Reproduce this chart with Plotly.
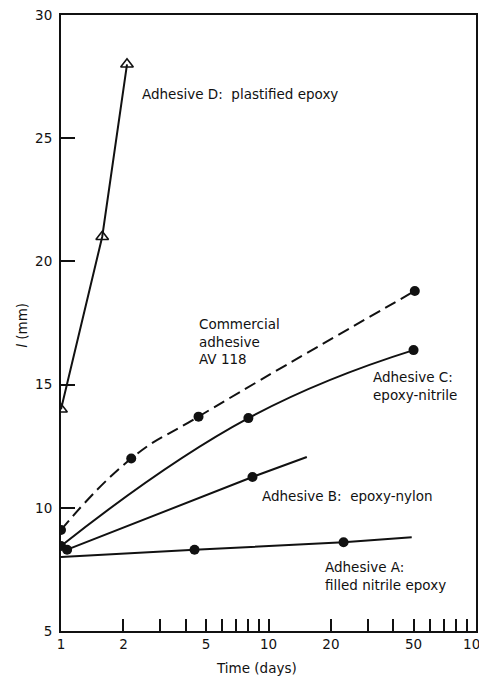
import math
import plotly.graph_objects as go

# Time (days) and crack length l (mm) for each adhesive
d_days = [1.0, 1.58, 2.08]
d_len = [14.0, 21.0, 28.0]

av_days = [1.0, 2.18, 4.6, 50.7]
av_len = [9.1, 12.0, 13.7, 18.8]

c_days = [1.0, 8.0, 50.0]
c_len = [8.45, 13.64, 16.4]

b_line_days = [1.07, 8.37, 15.3]
b_line_len = [8.3, 11.25, 12.06]
b_days = [1.07, 8.37]
b_len = [8.3, 11.25]

a_line_days = [1.0, 4.4, 23.0, 49.0]
a_line_len = [8.0, 8.3, 8.6, 8.8]
a_days = [4.4, 23.0]
a_len = [8.3, 8.6]

x_tickvals = [1, 2, 3, 4, 5, 6, 7, 8, 9, 10, 20, 30, 40, 50, 60, 70, 80, 90, 100]
x_labelled = {1: "1", 2: "2", 5: "5", 10: "10", 20: "20", 50: "50", 100: "100"}
y_tickvals = [5, 10, 15, 20, 25, 30]

FONT = "DejaVu Sans"
FS = 13.5
BLACK = "#111111"

fig = go.Figure()

# Adhesive D: straight segments with open triangles
fig.add_trace(go.Scatter(
    x=d_days, y=d_len, mode="lines+markers",
    line=dict(color=BLACK, width=2),
    marker=dict(symbol="triangle-up-open", size=11, color=BLACK,
                line=dict(width=1.6, color=BLACK)),
))

# Commercial adhesive AV 118: dashed smooth curve
fig.add_trace(go.Scatter(
    x=av_days, y=av_len, mode="lines+markers",
    line=dict(color=BLACK, width=2, dash="12px,6px", shape="spline", smoothing=1.3),
    marker=dict(symbol="circle", size=10, color=BLACK),
))

# Adhesive C: solid smooth curve
fig.add_trace(go.Scatter(
    x=c_days, y=c_len, mode="lines+markers",
    line=dict(color=BLACK, width=2, shape="spline", smoothing=1.3),
    marker=dict(symbol="circle", size=10, color=BLACK),
))

# Adhesive B
fig.add_trace(go.Scatter(
    x=b_line_days, y=b_line_len, mode="lines",
    line=dict(color=BLACK, width=2),
))
fig.add_trace(go.Scatter(
    x=b_days, y=b_len, mode="markers",
    marker=dict(symbol="circle", size=10, color=BLACK),
))

# Adhesive A
fig.add_trace(go.Scatter(
    x=a_line_days, y=a_line_len, mode="lines",
    line=dict(color=BLACK, width=2),
))
fig.add_trace(go.Scatter(
    x=a_days, y=a_len, mode="markers",
    marker=dict(symbol="circle", size=10, color=BLACK),
))

labels = [
    (2.40, 26.8, "Adhesive D:  plastified epoxy"),
    (4.52, 16.73, "Commercial<br>adhesive<br>AV 118"),
    (31.2, 14.96, "Adhesive C:<br>epoxy-nitrile"),
    (9.1, 10.48, "Adhesive B:  epoxy-nylon"),
    (18.3, 7.23, "Adhesive A:<br>filled nitrile epoxy"),
]
annotations = []
for xd, yv, txt in labels:
    annotations.append(dict(
        x=math.log10(xd), y=yv, xref="x", yref="y", text=txt,
        showarrow=False, xanchor="left", yanchor="middle", align="left",
        font=dict(family=FONT, size=FS, color=BLACK),
    ))

# Axis titles
annotations.append(dict(
    x=0.472, y=-0.060, xref="paper", yref="paper", text="Time (days)",
    showarrow=False, xanchor="center", yanchor="middle",
    font=dict(family=FONT, size=FS, color=BLACK),
))
annotations.append(dict(
    x=-0.094, y=0.497, xref="paper", yref="paper", text="<i>l</i> (mm)",
    showarrow=False, xanchor="center", yanchor="middle", textangle=-90,
    font=dict(family=FONT, size=FS, color=BLACK),
))

fig.update_layout(
    width=479, height=677,
    margin=dict(l=61, r=3, t=15, b=46, autoexpand=False),
    paper_bgcolor="white", plot_bgcolor="white",
    showlegend=False,
    font=dict(family=FONT, size=FS, color=BLACK),
    annotations=annotations,
)

fig.update_xaxes(
    type="log", range=[0, 2],
    tickmode="array", tickvals=x_tickvals,
    ticktext=[x_labelled.get(v, "") for v in x_tickvals],
    ticks="inside", ticklen=12, tickwidth=1.5, tickcolor=BLACK,
    showline=True, linecolor=BLACK, linewidth=2, mirror=True,
    showgrid=False, zeroline=False, automargin=False,
    ticklabeloverflow="allow",
    tickfont=dict(family=FONT, size=FS, color=BLACK),
)
fig.update_yaxes(
    range=[5, 30],
    tickmode="array", tickvals=y_tickvals,
    ticks="inside", ticklen=14, tickwidth=1.5, tickcolor=BLACK,
    showline=True, linecolor=BLACK, linewidth=2, mirror=True,
    showgrid=False, zeroline=False, automargin=False,
    tickfont=dict(family=FONT, size=FS, color=BLACK),
    ticklabelstandoff=4,
)

fig.write_html("out.html")
